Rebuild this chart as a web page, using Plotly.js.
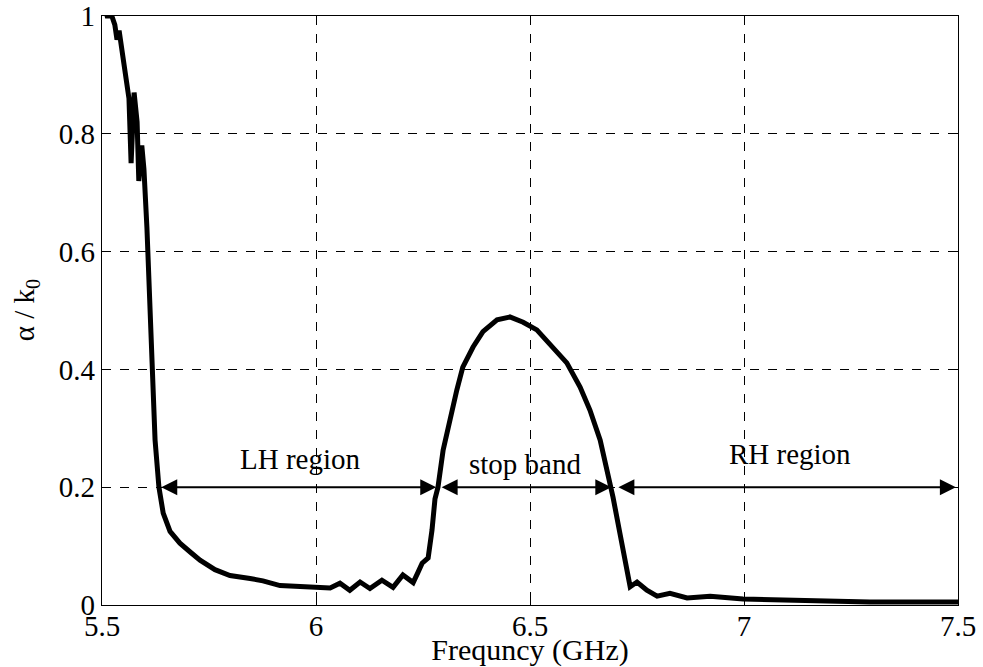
<!DOCTYPE html>
<html>
<head>
<meta charset="utf-8">
<script src="https://cdn.plot.ly/plotly-3.0.1.min.js"></script>
<style>html,body{margin:0;padding:0;background:#fff;}#chart{width:983px;height:667px;}</style>
</head>
<body>
<div id="chart"></div>
<script>
// Frequency (GHz)
const freq = [5.505, 5.512, 5.523, 5.530, 5.535, 5.540, 5.547, 5.556, 5.563, 5.568, 5.575, 5.582, 5.586, 5.593, 5.598,
  5.605, 5.610, 5.617, 5.624, 5.633, 5.643, 5.659, 5.682, 5.706, 5.729, 5.764, 5.799, 5.846, 5.876, 5.916, 5.963,
  6.000, 6.033, 6.056, 6.079, 6.103, 6.126, 6.154, 6.180, 6.203, 6.227, 6.238, 6.248, 6.262, 6.271, 6.278, 6.285,
  6.297, 6.313, 6.329, 6.343, 6.367, 6.390, 6.423, 6.453, 6.484, 6.516, 6.554, 6.586, 6.617, 6.640, 6.664, 6.682,
  6.694, 6.710, 6.727, 6.734, 6.750, 6.773, 6.797, 6.827, 6.867, 6.921, 6.998, 7.084, 7.178, 7.294, 7.500];
// alpha / k0
const alphaK0 = [1.02, 1.00, 1.00, 0.985, 0.96, 0.975, 0.94, 0.89, 0.86, 0.75, 0.87, 0.82, 0.72, 0.78, 0.74,
  0.64, 0.55, 0.40, 0.28, 0.20, 0.156, 0.125, 0.105, 0.09, 0.076, 0.06, 0.05, 0.045, 0.041, 0.033, 0.032,
  0.030, 0.029, 0.037, 0.025, 0.039, 0.028, 0.042, 0.030, 0.051, 0.038, 0.055, 0.071, 0.080, 0.127, 0.18, 0.20,
  0.263, 0.319, 0.365, 0.404, 0.438, 0.464, 0.484, 0.489, 0.480, 0.467, 0.438, 0.411, 0.370, 0.331, 0.280, 0.224,
  0.183, 0.122, 0.054, 0.031, 0.039, 0.025, 0.015, 0.020, 0.012, 0.015, 0.010, 0.008, 0.006, 0.005, 0.005];

const xTicks = [5.5, 6, 6.5, 7, 7.5];
const xTickText = ['5.5', '6', '6.5', '7', '7.5'];
const yTicks = [0, 0.2, 0.4, 0.6, 0.8, 1];
const yTickText = ['0', '0.2', '0.4', '0.6', '0.8', '1'];

// Region labels and their arrow bounds
const regionNames = ['LH region', 'stop band', 'RH region'];
const regionStart = [5.635, 6.290, 6.703];
const regionEnd = [6.281, 6.690, 7.495];
const regionLevel = 0.2;
const labelX = [5.963, 6.488, 7.107];
const labelY = [0.248, 0.240, 0.256];

const serif = 'Liberation Serif, Times New Roman, serif';

const annotations = [];
for (let i = 0; i < regionNames.length; i++) {
  annotations.push({
    x: regionEnd[i], y: regionLevel, ax: regionStart[i], ay: regionLevel,
    xref: 'x', yref: 'y', axref: 'x', ayref: 'y',
    text: '', showarrow: true, arrowside: 'end+start',
    arrowhead: 2, arrowsize: 1.6, arrowwidth: 2, arrowcolor: '#000'
  });
  annotations.push({
    x: labelX[i], y: labelY[i], xref: 'x', yref: 'y',
    text: regionNames[i], showarrow: false,
    font: {family: serif, size: 29, color: '#000'}
  });
}
// y-axis title as a rotated text
annotations.push({
  x: -0.089, y: 0.5, xref: 'paper', yref: 'paper',
  text: 'α / k<sub>0</sub>', showarrow: false, textangle: -90,
  xanchor: 'center', yanchor: 'middle',
  font: {family: serif, size: 29, color: '#000'}
});

const trace = {
  x: freq, y: alphaK0, type: 'scatter', mode: 'lines',
  line: {color: '#000', width: 5}, hoverinfo: 'skip'
};

const axisCommon = {
  showline: true, mirror: 'ticks', linecolor: '#000', linewidth: 1.2,
  ticks: 'inside', ticklen: 7, tickcolor: '#000',
  showgrid: true, gridcolor: '#000', gridwidth: 1, griddash: 'dash',
  zeroline: false, tickfont: {family: serif, size: 29, color: '#000'}
};

const layout = {
  width: 983, height: 667,
  margin: {l: 102, r: 25, t: 16, b: 62},
  paper_bgcolor: '#fff', plot_bgcolor: '#fff',
  showlegend: false,
  xaxis: Object.assign({}, axisCommon, {
    range: [5.5, 7.5], tickvals: xTicks, ticktext: xTickText,
    ticklabelstandoff: -5,
    title: {text: 'Frequncy (GHz)', font: {family: serif, size: 30, color: '#000'}, standoff: 0}
  }),
  yaxis: Object.assign({}, axisCommon, {
    range: [0, 1], tickvals: yTicks, ticktext: yTickText,
    ticklabelstandoff: 0
  }),
  annotations: annotations
};

Plotly.newPlot('chart', [trace], layout, {displayModeBar: false, staticPlot: true});
</script>
</body>
</html>
